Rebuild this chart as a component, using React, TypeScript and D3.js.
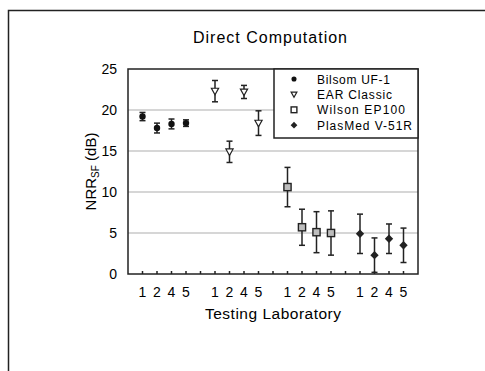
import React, { useRef, useEffect } from "react";
import * as d3 from "d3";

const labs = ["1", "2", "4", "5"];
const products = ["Bilsom UF-1", "EAR Classic", "Wilson EP100", "PlasMed V-51R"];
const legendWidths = [73, 75, 88, 95];
const bilsomMean = [19.2, 17.8, 18.3, 18.4];
const bilsomErr = [0.5, 0.6, 0.6, 0.4];
const earMean = [22.3, 14.9, 22.2, 18.4];
const earErr = [1.3, 1.3, 0.8, 1.5];
const wilsonMean = [10.6, 5.7, 5.1, 5.0];
const wilsonErr = [2.4, 2.2, 2.5, 2.7];
const plasmedMean = [4.9, 2.3, 4.3, 3.5];
const plasmedErr = [2.4, 2.1, 1.8, 2.1];
const yTicks = [0, 5, 10, 15, 20, 25];

const FONT = "'Liberation Sans', Arial, sans-serif";

export default function App() {
  const svgRef = useRef<SVGSVGElement>(null);

  useEffect(() => {
    if (!svgRef.current) return;
    const svg = d3.select(svgRef.current);
    svg.selectAll("*").remove();

    const margin = { left: 128, right: 418, top: 69, bottom: 274 };

    // outer frame
    svg.append("rect")
      .attr("x", 8.5).attr("y", 10.5)
      .attr("width", 500).attr("height", 400)
      .attr("fill", "white").attr("stroke", "#222").attr("stroke-width", 1.5);

    const x = d3.scaleLinear().domain([0, 20]).range([margin.left, margin.right]);
    const y = d3.scaleLinear().domain([0, 25]).range([margin.bottom, margin.top]);

    // title
    svg.append("text")
      .attr("x", 270).attr("y", 43)
      .attr("text-anchor", "middle")
      .attr("textLength", 154).attr("lengthAdjust", "spacing")
      .style("font-family", FONT).style("font-size", "16px")
      .text("Direct Computation");

    // grid
    svg.selectAll(".grid")
      .data(yTicks.filter(t => t > 0 && t < 25))
      .enter().append("line")
      .attr("x1", margin.left).attr("x2", margin.right)
      .attr("y1", d => y(d)).attr("y2", d => y(d))
      .attr("stroke", "#c8c8c8").attr("stroke-width", 1.5);

    // y tick labels
    svg.selectAll(".ylab")
      .data(yTicks)
      .enter().append("text")
      .attr("x", 117).attr("y", d => y(d) + 5)
      .attr("text-anchor", "end")
      .style("font-family", FONT).style("font-size", "14px")
      .text(d => d);

    // x ticks (every slot, inside)
    const slots = d3.range(1, 20);
    svg.selectAll(".xtick")
      .data(slots)
      .enter().append("line")
      .attr("x1", d => x(d)).attr("x2", d => x(d))
      .attr("y1", margin.bottom).attr("y2", margin.bottom - 3)
      .attr("stroke", "#222").attr("stroke-width", 1.5);

    // x tick labels
    const labelPos: { pos: number; text: string }[] = [];
    products.forEach((_, g) => labs.forEach((l, i) => labelPos.push({ pos: g * 5 + i + 1, text: l })));
    svg.selectAll(".xlab")
      .data(labelPos)
      .enter().append("text")
      .attr("x", d => x(d.pos)).attr("y", 297)
      .attr("text-anchor", "middle")
      .style("font-family", FONT).style("font-size", "14px")
      .text(d => d.text);

    // axis titles
    svg.append("text")
      .attr("x", 273).attr("y", 319)
      .attr("text-anchor", "middle")
      .attr("textLength", 136).attr("lengthAdjust", "spacing")
      .style("font-family", FONT).style("font-size", "15.5px")
      .text("Testing Laboratory");

    const yt = svg.append("text")
      .attr("transform", `translate(96, ${(margin.top + margin.bottom) / 2}) rotate(-90)`)
      .attr("text-anchor", "middle")
      .style("font-family", FONT).style("font-size", "15px");
    yt.append("tspan").text("NRR");
    yt.append("tspan").attr("dy", 3).style("font-size", "10px").text("SF");
    yt.append("tspan").attr("dy", -3).text(" (dB)");

    // data
    const series = [
      { mean: bilsomMean, err: bilsomErr, shape: "circle" },
      { mean: earMean, err: earErr, shape: "triangle" },
      { mean: wilsonMean, err: wilsonErr, shape: "square" },
      { mean: plasmedMean, err: plasmedErr, shape: "diamond" },
    ];

    const drawMarker = (sel: d3.Selection<SVGGElement, unknown, null, undefined>, shape: string, cx: number, cy: number, s: number) => {
      if (shape === "circle") {
        sel.append("circle").attr("cx", cx).attr("cy", cy).attr("r", 3.2 * s).attr("fill", "#111");
      } else if (shape === "triangle") {
        const h = 3.6 * s;
        sel.append("path")
          .attr("d", `M${cx - h},${cy - h * 0.8}L${cx + h},${cy - h * 0.8}L${cx},${cy + h}Z`)
          .attr("fill", "white").attr("stroke", "#222").attr("stroke-width", 1.2);
      } else if (shape === "square") {
        const h = 3.6 * s;
        sel.append("rect").attr("x", cx - h).attr("y", cy - h).attr("width", 2 * h).attr("height", 2 * h)
          .attr("fill", s < 1 ? "white" : "#bdbdbd").attr("stroke", "#222").attr("stroke-width", 1.4);
      } else {
        const h = 4.2 * s;
        sel.append("path")
          .attr("d", `M${cx},${cy - h}L${cx + h},${cy}L${cx},${cy + h}L${cx - h},${cy}Z`)
          .attr("fill", "#222");
      }
    };

    const marks = svg.append("g");
    series.forEach((s, g) => {
      s.mean.forEach((m, i) => {
        const cx = x(g * 5 + i + 1);
        const hi = y(m + s.err[i]);
        const lo = y(m - s.err[i]);
        marks.append("line").attr("x1", cx).attr("x2", cx).attr("y1", hi).attr("y2", lo)
          .attr("stroke", "#222").attr("stroke-width", 1.5);
        [hi, lo].forEach(v => marks.append("line")
          .attr("x1", cx - 3).attr("x2", cx + 3).attr("y1", v).attr("y2", v)
          .attr("stroke", "#222").attr("stroke-width", 1.5));
        drawMarker(marks, s.shape, cx, y(m), 1);
      });
    });

    // plot frame
    svg.append("rect")
      .attr("x", margin.left).attr("y", margin.top)
      .attr("width", margin.right - margin.left).attr("height", margin.bottom - margin.top)
      .attr("fill", "none").attr("stroke", "#222").attr("stroke-width", 1.5);

    // legend
    const lg = svg.append("g");
    lg.append("rect")
      .attr("x", 274).attr("y", margin.top)
      .attr("width", margin.right - 274).attr("height", 69)
      .attr("fill", "white").attr("stroke", "#222").attr("stroke-width", 1.5);
    products.forEach((p, i) => {
      const ly = 79 + i * 15.4;
      drawMarker(lg, series[i].shape, 294, ly, 0.8);
      lg.append("text")
        .attr("x", 317).attr("y", ly + 4.5)
        .attr("textLength", legendWidths[i]).attr("lengthAdjust", "spacing")
        .style("font-family", FONT).style("font-size", "12px")
        .text(p);
    });
  }, []);

  return (
    <svg
      ref={svgRef}
      width={485}
      height={371}
      style={{ position: "absolute", left: 0, top: 0, background: "white" }}
    />
  );
}
